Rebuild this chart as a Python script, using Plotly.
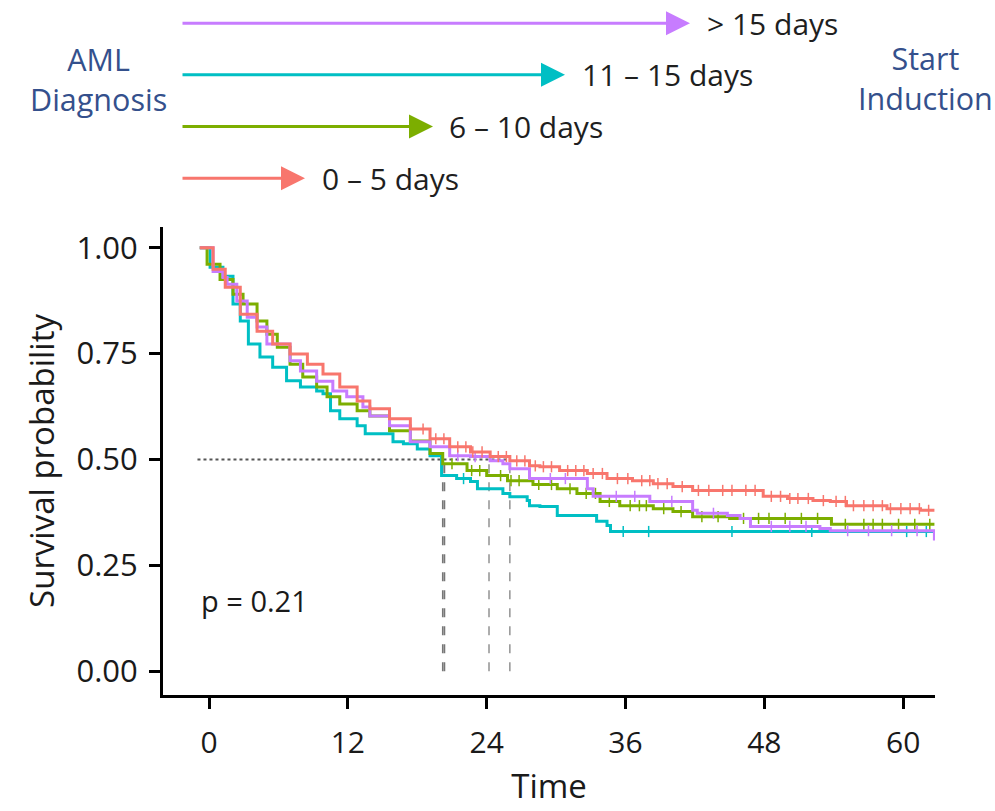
import numpy as np
import plotly.graph_objects as go

# ---- data (months, survival probability) ----
groups = ["0 – 5 days", "6 – 10 days", "11 – 15 days", "> 15 days"]
colors = ["#F8766D", "#7CAE00", "#00BFC4", "#C77CFF"]

red_t = [-0.8, 0.35, 1.4, 2.7, 4.15, 5.5, 7.0, 8.5, 9.85, 11.3, 12.8, 13.9, 15.6, 17.4, 19.1,
         20.8, 22.6, 24.3, 26.0, 27.7, 28.6, 30.3, 32.7, 34.4, 36.6, 38.4, 40.1, 41.8, 47.9,
         50.0, 52.2, 53.7, 55.1, 58.6, 61.5, 62.7]
red_s = [1.0, 0.949, 0.907, 0.843, 0.803, 0.773, 0.749, 0.725, 0.702, 0.671, 0.638, 0.620, 0.596,
         0.572, 0.549, 0.530, 0.518, 0.507, 0.497, 0.485, 0.483, 0.474, 0.467, 0.455, 0.450, 0.443,
         0.436, 0.427, 0.413, 0.408, 0.403, 0.401, 0.391, 0.384, 0.380, 0.380]

green_t = [-0.8, -0.17, 0.95, 2.07, 2.94, 4.15, 5.0, 5.9, 7.0, 8.1, 9.3, 10.2, 11.3, 12.8, 13.9,
           15.6, 17.4, 19.1, 20.2, 22.3, 24.0, 25.8, 28.0, 30.1, 31.8, 33.8, 35.5, 38.4, 40.1,
           41.8, 45.0, 53.8, 62.7]
green_s = [1.0, 0.961, 0.925, 0.890, 0.867, 0.827, 0.796, 0.765, 0.725, 0.695, 0.671, 0.648, 0.631,
           0.615, 0.603, 0.568, 0.544, 0.514, 0.490, 0.474, 0.462, 0.450, 0.441, 0.431, 0.420,
           0.401, 0.391, 0.384, 0.377, 0.365, 0.361, 0.347, 0.347]

cyan_t = [-0.8, 0.09, 1.2, 2.07, 2.7, 3.4, 4.4, 5.5, 6.7, 7.9, 9.3, 9.85, 10.5, 11.3, 12.8, 13.5,
          15.9, 16.8, 18.0, 19.1, 20.1, 21.4, 22.6, 23.2, 25.4, 26.0, 27.5, 27.7, 28.6, 30.1,
          33.5, 34.4, 34.7, 62.7]
cyan_s = [1.0, 0.954, 0.933, 0.867, 0.827, 0.773, 0.742, 0.718, 0.686, 0.671, 0.662, 0.655, 0.615,
          0.596, 0.580, 0.561, 0.542, 0.537, 0.525, 0.509, 0.462, 0.455, 0.448, 0.431, 0.420,
          0.412, 0.403, 0.391, 0.389, 0.368, 0.354, 0.344, 0.330, 0.328]

purple_t = [-0.8, 0.35, 1.2, 1.56, 2.4, 3.3, 4.15, 5.0, 7.0, 7.9, 9.3, 10.7, 11.9, 13.3, 13.9,
            15.6, 17.4, 19.1, 20.8, 22.6, 24.3, 25.4, 26.0, 27.7, 32.7, 33.2, 38.1, 41.8, 42.2,
            44.8, 45.9, 46.8, 52.8, 53.7, 62.6, 62.7]
purple_s = [1.0, 0.944, 0.930, 0.914, 0.874, 0.836, 0.813, 0.773, 0.733, 0.709, 0.685, 0.662,
            0.648, 0.624, 0.603, 0.580, 0.542, 0.530, 0.509, 0.507, 0.497, 0.490, 0.478, 0.455,
            0.431, 0.413, 0.401, 0.380, 0.373, 0.368, 0.361, 0.342, 0.337, 0.332, 0.332, 0.309]

# censoring times (tick marks)
red_c = [18.5, 19.6, 20.3, 21.5, 22.2, 22.8, 23.6, 25.0, 25.7, 26.6, 27.3, 28.2, 28.9, 29.6,
         31.0, 31.7, 32.4, 33.2, 34.0, 35.3, 36.2, 37.4, 38.1, 38.8, 39.6, 40.9, 42.3, 43.2,
         44.4, 45.2, 46.4, 47.2, 48.6, 49.4, 50.2, 50.9, 51.8, 53.1, 54.2, 55.0, 55.7, 56.6,
         57.4, 58.2, 58.9, 59.8, 60.6, 61.4, 62.2]
green_c = [21.0, 22.7, 23.4, 25.2, 26.1, 26.8, 28.5, 29.6, 31.2, 32.6, 33.4, 34.6, 36.4, 37.2,
           37.8, 39.3, 40.8, 42.6, 44.0, 46.2, 47.5, 48.4, 49.8, 51.2, 52.6, 55.0, 56.6, 57.4,
           58.2, 59.6, 61.0, 62.3]
purple_c = [21.5, 23.0, 29.5, 30.8, 35.2, 36.8, 40.0, 43.6, 48.6, 50.2, 51.6, 55.2, 57.0, 59.0,
            61.2]
cyan_c = [22.0, 35.8, 38.0, 45.2, 52.1, 60.3, 62.0]

medians = [20.2, 20.35, 24.2, 26.0]

series = [(red_t, red_s, red_c), (green_t, green_s, green_c),
          (cyan_t, cyan_s, cyan_c), (purple_t, purple_s, purple_c)]

x_ticks = [0, 12, 24, 36, 48, 60]
y_ticks = [0, 0.25, 0.5, 0.75, 1.0]
y_ticktext = ["0.00", "0.25", "0.50", "0.75", "1.00"]

FONT = "Open Sans"

fig = go.Figure()

# median reference lines
fig.add_trace(go.Scatter(x=[-1.0, max(medians)], y=[0.5, 0.5], mode="lines",
                         line=dict(color="#555555", width=2, dash="dot"),
                         showlegend=False, hoverinfo="skip"))
for i, m in enumerate(medians):
    fig.add_trace(go.Scatter(x=[m, m], y=[0.0, 0.5], mode="lines",
                             line=dict(color="#777777" if i < 2 else "#999999",
                                       width=1.6, dash="dash"),
                             showlegend=False, hoverinfo="skip"))

for k in [2, 1, 3, 0]:
    t, s, c = series[k]
    fig.add_trace(go.Scatter(x=t, y=s, mode="lines", line_shape="hv",
                             line=dict(color=colors[k], width=3),
                             name=groups[k], showlegend=False))
    ta = np.array(t)
    sa = np.array(s)
    idx = np.searchsorted(ta, np.array(c), side="right") - 1
    fig.add_trace(go.Scatter(x=c, y=sa[idx], mode="markers",
                             marker=dict(symbol="line-ns", size=8,
                                         line=dict(color=colors[k], width=1.5)),
                             showlegend=False, hoverinfo="skip"))

# plot area geometry: x px 163..935, y px 227..697
def px(xp):
    return (xp - 163) / 772.0

def py(yp):
    return (697 - yp) / 470.0

annots = []
arrow_specs = [  # (label, color, head_px, y_px, label_px)
    (groups[3], colors[3], 690, 22.5, 705),
    (groups[2], colors[2], 565, 74, 580),
    (groups[1], colors[1], 433, 126, 447),
    (groups[0], colors[0], 305, 178, 320),
]
for lab, col, hx, yy, lx in arrow_specs:
    annots.append(dict(xref="paper", yref="paper", x=px(hx), y=py(yy),
                       ax=181 - hx, ay=0, axref="pixel", ayref="pixel",
                       showarrow=True, arrowhead=2, arrowsize=1.6, arrowwidth=3,
                       arrowcolor=col, text=""))
    annots.append(dict(xref="paper", yref="paper", x=px(lx), y=py(yy),
                       xanchor="left", yanchor="middle", showarrow=False, text=lab,
                       font=dict(family=FONT, size=30, color="#1f1f1f")))

annots.append(dict(xref="paper", yref="paper", x=px(98), y=py(78), text="AML<br>Diagnosis",
                   showarrow=False, xanchor="center", yanchor="middle", align="center",
                   font=dict(family=FONT, size=30.5, color="#34508C")))
annots.append(dict(xref="paper", yref="paper", x=px(925), y=py(77), text="Start<br>Induction",
                   showarrow=False, xanchor="center", yanchor="middle", align="center",
                   font=dict(family=FONT, size=30.5, color="#34508C")))
annots.append(dict(xref="x", yref="y", x=-0.9, y=0.168, text="p = 0.21", showarrow=False,
                   xanchor="left", yanchor="middle",
                   font=dict(family=FONT, size=29, color="#1a1a1a")))

fig.update_layout(
    width=995, height=811,
    margin=dict(l=163, r=60, t=227, b=114, pad=0),
    paper_bgcolor="white", plot_bgcolor="white",
    annotations=annots,
    showlegend=False,
    font=dict(family=FONT, color="#1a1a1a"),
)
fig.update_xaxes(range=[-3.98, 62.75], tickvals=x_ticks, ticks="outside", ticklen=11,
                 tickwidth=3, tickcolor="black", showline=True, linewidth=3,
                 linecolor="black", showgrid=False, zeroline=False,
                 tickfont=dict(family=FONT, size=30, color="#1a1a1a"),
                 ticklabelstandoff=8,
                 title=dict(text="Time", font=dict(family=FONT, size=33, color="#1a1a1a"),
                            standoff=14))
fig.update_yaxes(range=[-0.056, 1.049], tickvals=y_ticks, ticktext=y_ticktext,
                 ticks="outside", ticklen=11, tickwidth=3, tickcolor="black",
                 showline=True, linewidth=3, linecolor="black", showgrid=False,
                 zeroline=False, ticklabelstandoff=5,
                 tickfont=dict(family=FONT, size=31, color="#1a1a1a"),
                 title=dict(text="Survival probability",
                            font=dict(family=FONT, size=33, color="#1a1a1a"), standoff=12))

fig.write_html("out.html")
